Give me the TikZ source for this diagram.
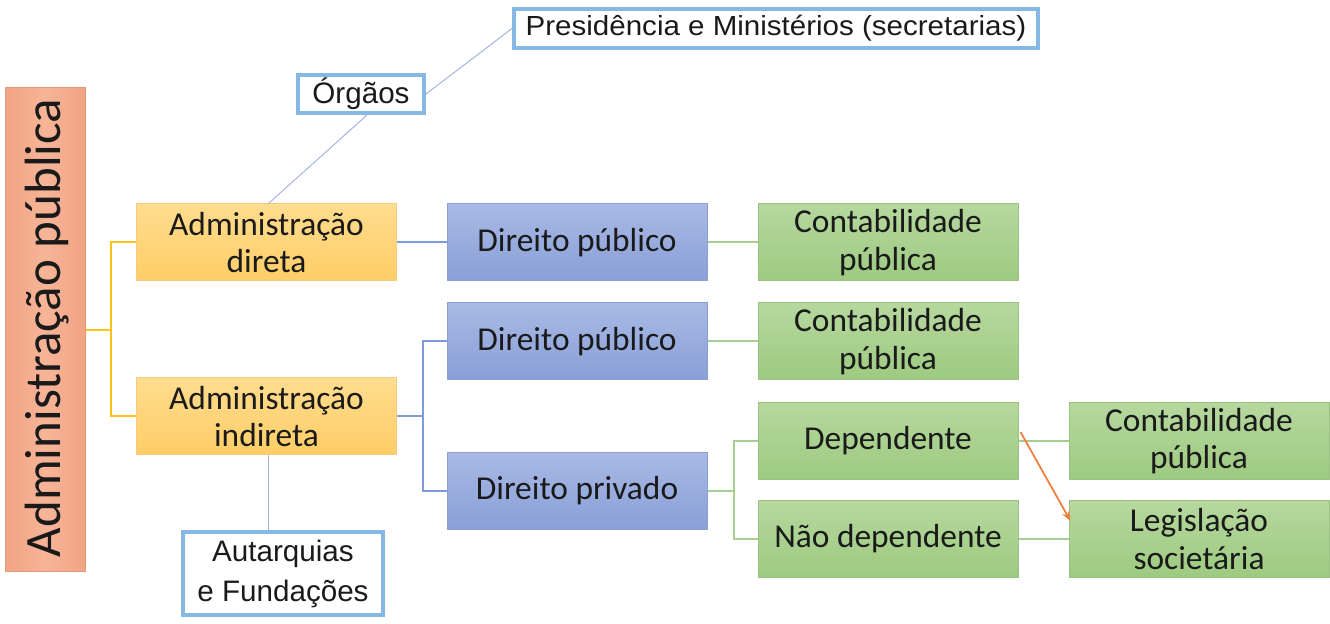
\documentclass[tikz,border=0pt]{standalone}
\usepackage{fontspec}
\setmainfont{Carlito}
\newfontfamily\arialf{Liberation Sans}
\usetikzlibrary{arrows.meta,calc}
\definecolor{txt}{HTML}{1A1A1A}
\definecolor{rootA}{HTML}{F6B497}
\definecolor{rootB}{HTML}{F2A483}
\definecolor{rootE}{HTML}{E29A7C}
\definecolor{yelA}{HTML}{FFDC8E}
\definecolor{yelB}{HTML}{FFCD66}
\definecolor{yelE}{HTML}{F2CB7C}
\definecolor{bluA}{HTML}{A8B9E5}
\definecolor{bluB}{HTML}{899FD7}
\definecolor{bluE}{HTML}{8A9ED2}
\definecolor{grnA}{HTML}{B6D89E}
\definecolor{grnB}{HTML}{9DCA80}
\definecolor{grnE}{HTML}{9CC283}
\definecolor{yline}{HTML}{FFC21A}
\definecolor{bline}{HTML}{7E9BDC}
\definecolor{gline}{HTML}{A6CF8D}
\definecolor{thin}{HTML}{A5B3E3}
\definecolor{outl}{HTML}{85B8E4}
\definecolor{orng}{HTML}{EE8040}
\tikzset{
  box/.style={rectangle, inner sep=0pt, minimum width=130pt, minimum height=38.5pt,
    align=center, text=txt, font=\fontsize{16.7}{18.7}\selectfont, line width=0.5pt},
  ybox/.style={box, draw=yelE, top color=yelA, bottom color=yelB},
  bbox/.style={box, draw=bluE, top color=bluA, bottom color=bluB},
  gbox/.style={box, draw=grnE, top color=grnA, bottom color=grnB},
  obox/.style={rectangle, inner sep=0pt, draw=outl, fill=white, line width=2pt,
    align=center, text=txt, font=\arialf\fontsize{14.8}{20}\selectfont},
  yl/.style={draw=yline, line width=1pt},
  bl/.style={draw=bline, line width=1pt},
  gl/.style={draw=gline, line width=1pt},
  tl/.style={draw=thin, line width=0.5pt},
  oarrow/.style={draw=orng, line width=0.9pt, -{Stealth[length=5pt,width=4pt]}}
}
\begin{document}
\begin{tikzpicture}[x=0.5pt,y=-0.5pt]
\useasboundingbox (0,0) rectangle (1330,624);
% root
\node[rectangle, draw=rootE, left color=rootB, right color=rootB, middle color=rootA,
  line width=0.5pt, minimum width=40pt, minimum height=242pt, inner sep=0pt] (root) at (45,330) {};
\node[rotate=90, text=txt, font=\fontsize{25.5}{28}\selectfont] (roottxt) at (47,328) {Administração pública};
% level 1
\node[ybox] (dir) at (266.5,242.5) {Administração\\direta};
\node[ybox] (ind) at (266.5,416.5) {Administração\\indireta};
% level 2
\node[bbox] (dp1) at (577,242.5) {Direito público};
\node[bbox] (dp2) at (577,341.5) {Direito público};
\node[bbox] (priv) at (577,491) {Direito privado};
% level 3
\node[gbox] (cp1) at (888,242.5) {Contabilidade\\pública};
\node[gbox] (cp2) at (888,341.5) {Contabilidade\\pública};
\node[gbox] (dep) at (888,441) {Dependente};
\node[gbox] (ndep) at (888,539) {Não dependente};
% level 4
\node[gbox] (cp3) at (1199,441) {Contabilidade\\pública};
\node[gbox] (leg) at (1199,539) {Legislação\\societária};
% outlined boxes
\node[obox, minimum width=63pt, minimum height=19pt] (org) at (361,94) {Órgãos};
\node[obox, minimum width=262pt, minimum height=19.5pt, font=\arialf\fontsize{13.8}{16}\selectfont] (pres) at (776,28.5) {\scalebox{1.07}[1]{Presidência e Ministérios (secretarias)}};
\node[obox, minimum width=100pt, minimum height=41.5pt] (aut) at (283,573.5) {Autarquias\\e Fundações};
% connectors
\draw[yl] (root.east) -- ++(25,0) coordinate (yj) |- (dir.west);
\draw[yl] (yj) |- (ind.west);
\draw[bl] (dir.east) -- (dp1.west);
\draw[bl] (ind.east) -- ++(26,0) coordinate (bj) |- (dp2.west);
\draw[bl] (bj) |- (priv.west);
\draw[gl] (dp1.east) -- (cp1.west);
\draw[gl] (dp2.east) -- (cp2.west);
\draw[gl] (priv.east) -- ++(26,0) coordinate (gj) |- (dep.west);
\draw[gl] (gj) |- (ndep.west);
\draw[gl] (dep.east) -- (cp3.west);
\draw[gl] (ndep.east) -- (leg.west);
% thin lines
\draw[tl] ([xshift=1pt]dir.north) -- ([xshift=3pt]org.south);
\draw[tl] (org.east) -- (pres.west);
\draw[tl] ([xshift=1pt]ind.south) -- ([xshift=1pt]ind.south |- aut.north);
% orange arrow
\coordinate (oa) at ([shift={(2,-9)}]dep.east);
\coordinate (ob) at ([shift={(2,-18)}]leg.west);
\draw[oarrow] (oa) -- (ob);
\end{tikzpicture}
\end{document}
